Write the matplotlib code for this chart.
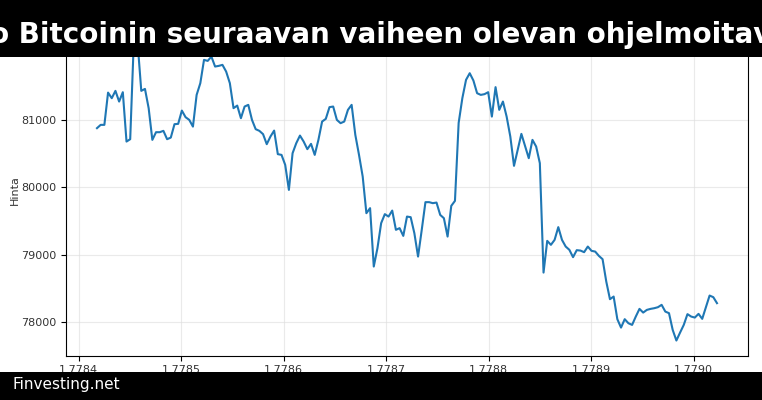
import numpy as np
import matplotlib
matplotlib.use("Agg")
import matplotlib.pyplot as plt
from matplotlib.patches import Rectangle

# hourly closes, one week
START_TS = 1778418000
STEP_S = 3600
prices = [
    80877, 80926, 80926, 81405, 81322, 81431, 81272, 81411, 80678, 80713,
    82200, 82150, 81431, 81460, 81174, 80703, 80817, 80817, 80837, 80713,
    80737, 80936, 80941, 81138, 81040, 81000, 80900, 81371, 81545, 81891,
    81876, 81940, 81792, 81802, 81817, 81717, 81545, 81174, 81212, 81025,
    81198, 81223, 81000, 80862, 80837, 80788, 80639, 80752, 80841, 80491,
    80480, 80332, 79960, 80505, 80654, 80767, 80678, 80565, 80644, 80480,
    80703, 80975, 81015, 81189, 81198, 81000, 80951, 80975, 81149, 81223,
    80777, 80480, 80158, 79614, 79689, 78822, 79095, 79466, 79600, 79564,
    79653, 79367, 79392, 79277, 79564, 79555, 79317, 78970, 79367, 79778,
    79778, 79763, 79772, 79589, 79540, 79267, 79723, 79797, 80955, 81322,
    81594, 81693, 81584, 81396, 81371, 81382, 81411, 81049, 81486, 81149,
    81272, 81049, 80752, 80317, 80554, 80792, 80614, 80431, 80703, 80604,
    80357, 78732, 79203, 79144, 79218, 79407, 79218, 79119, 79070, 78961,
    79065, 79059, 79035, 79119, 79055, 79044, 78980, 78931, 78599, 78337,
    78376, 78040, 77915, 78040, 77980, 77955, 78079, 78193, 78138, 78178,
    78193, 78203, 78218, 78253, 78153, 78129, 77881, 77723, 77841, 77955,
    78115, 78079, 78064, 78119, 78045, 78218, 78391, 78367, 78278,
]
times = START_TS + STEP_S * np.arange(len(prices))

title = "o Bitcoinin seuraavan vaiheen olevan ohjelmoitav"
brand = "Finvesting.net"

fig = plt.figure(figsize=(7.62, 4.0), dpi=100)
ax = fig.add_axes([0.0866, 0.111, 0.8950, 0.829])
ax.plot(times, prices, color="#1f77b4", linewidth=1.5)
ax.grid(True, color="#dddddd", alpha=0.6, linewidth=0.8)
ax.set_ylabel("Hinta", fontsize=8, color="#333333")
ax.yaxis.set_label_coords(-0.067, 0.5)
ax.tick_params(labelsize=8, labelcolor="#333333")
ax.set_yticks([78000, 79000, 80000, 81000])

# black bars on top and bottom
fig.patches.append(Rectangle((0, 1 - 57 / 400), 1, 57 / 400, transform=fig.transFigure,
                             facecolor="black", zorder=10))
fig.patches.append(Rectangle((0, 0), 1, 28 / 400, transform=fig.transFigure,
                             facecolor="black", zorder=10))
fig.text(0.5, 1 - 35 / 400, title, color="white", fontsize=20, fontweight="bold",
         ha="center", va="center", zorder=11)
fig.text(12 / 762, 15 / 400, brand, color="white", fontsize=11,
         ha="left", va="center", zorder=11)

fig.savefig("out.png", dpi=100)
